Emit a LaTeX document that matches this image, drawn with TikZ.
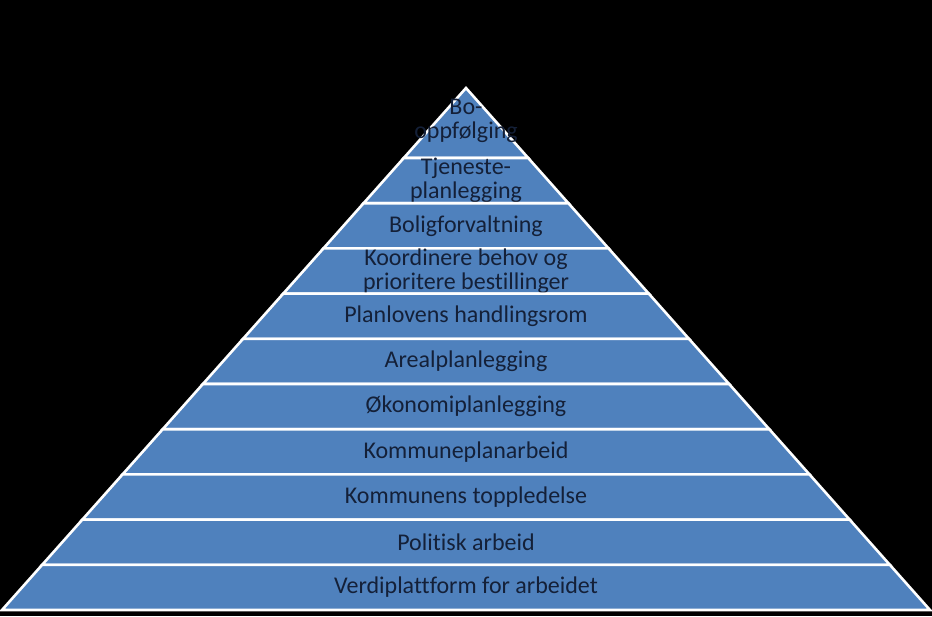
\documentclass[tikz,border=0pt]{standalone}
\usepackage{fontspec}
\setmainfont{Carlito}[Ligatures={NoCommon}]
\usetikzlibrary{calc}
\definecolor{layerblue}{RGB}{79,129,189}
\definecolor{textnavy}{RGB}{20,32,56}

\begin{document}
\begin{tikzpicture}[x=1pt, y=-1pt,
    layer/.style={fill=layerblue, draw=white, line width=2.6pt, line join=miter},
    lbl/.style={text=textnavy, align=center, inner sep=0pt,
      font=\fontsize{24}{24}\selectfont}]
  % black backdrop, fixes the page size
  \fill[black] (0,0) rectangle (932,616);
  \useasboundingbox (0,0) rectangle (932,616);
  % layers from the apex down, so each one hides the overflow of the one above
  \foreach \k/\txt in {10/{Bo-\\oppfølging},
                       9/{Tjeneste-\\planlegging},
                       8/{Boligforvaltning},
                       7/{Koordinere behov og\\prioritere bestillinger},
                       6/{Planlovens handlingsrom},
                       5/{Arealplanlegging},
                       4/{Økonomiplanlegging},
                       3/{Kommuneplanarbeid},
                       2/{Kommunens toppledelse},
                       1/{Politisk arbeid},
                       0/{Verdiplattform for arbeidet}} {
    \pgfmathsetmacro{\ybot}{610-45.2*\k}
    \pgfmathsetmacro{\ytop}{\k==10 ? 88 : 610-45.2*(\k+1)}
    \pgfmathsetmacro{\wbot}{(\ybot-88)/522*464}
    \pgfmathsetmacro{\wtop}{(\ytop-88)/522*464}
    \pgfmathsetmacro{\ymid}{\k==10 ? 121 : (\ybot+\ytop)/2}
    \draw[layer] (466-\wbot,\ybot) -- (466+\wbot,\ybot)
      -- (466+\wtop,\ytop) -- (466-\wtop,\ytop) -- cycle;
    \node[lbl] (layer\k) at (466,\ymid) {\txt};
  }
\end{tikzpicture}
\end{document}
